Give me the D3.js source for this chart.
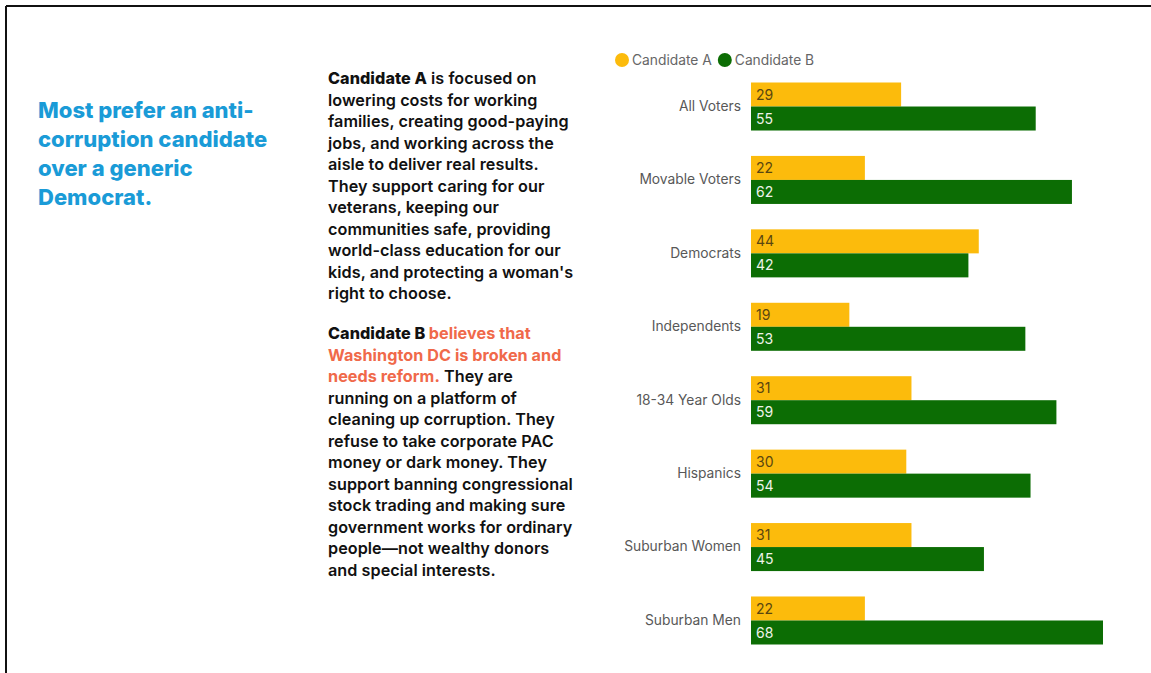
<!DOCTYPE html>
<html>
<head>
<meta charset="utf-8">
<script src="https://cdn.jsdelivr.net/npm/d3@7"></script>
<style>
  html, body { margin: 0; padding: 0; background: #fff; }
  svg { display: block; }
</style>
</head>
<body>
<div id="chart"></div>
<script>
// data
const groups = ['All Voters', 'Movable Voters', 'Democrats', 'Independents',
  '18-34 Year Olds', 'Hispanics', 'Suburban Women', 'Suburban Men'];
const seriesNames = ['Candidate A', 'Candidate B'];
const candidateA = [29, 22, 44, 19, 31, 30, 31, 22];
const candidateB = [55, 62, 42, 53, 59, 54, 45, 68];

const titleLines = ['Most prefer an anti-', 'corruption candidate', 'over a generic', 'Democrat.'];

// each line is a list of [text, style] pieces
const paraA = [
  [['Candidate A', 'lead'], [' is focused on', 'body']],
  [['lowering costs for working', 'body']],
  [['families, creating good-paying', 'body']],
  [['jobs, and working across the', 'body']],
  [['aisle to deliver real results.', 'body']],
  [['They support caring for our', 'body']],
  [['veterans, keeping our', 'body']],
  [['communities safe, providing', 'body']],
  [['world-class education for our', 'body']],
  [["kids, and protecting a woman's", 'body']],
  [['right to choose.', 'body']]
];
const paraB = [
  [['Candidate B ', 'lead'], ['believes that', 'accent']],
  [['Washington DC is broken and', 'accent']],
  [['needs reform.', 'accent'], [' They are', 'body']],
  [['running on a platform of', 'body']],
  [['cleaning up corruption. They', 'body']],
  [['refuse to take corporate PAC', 'body']],
  [['money or dark money. They', 'body']],
  [['support banning congressional', 'body']],
  [['stock trading and making sure', 'body']],
  [['government works for ordinary', 'body']],
  [['people\u2014not wealthy donors', 'body']],
  [['and special interests.', 'body']]
];

const W = 1151, H = 673;
const colors = { 'Candidate A': '#fcbb0c', 'Candidate B': '#0c6d04' };
const font = 'Inter, "Noto Sans", sans-serif';

const svg = d3.select('#chart').append('svg')
  .attr('width', W).attr('height', H);

// frame (top + left edge only)
svg.append('line').attr('x1', 6).attr('x2', W).attr('y1', 6).attr('y2', 6)
  .attr('stroke', '#111').attr('stroke-width', 2);
svg.append('line').attr('x1', 6).attr('x2', 6).attr('y1', 6).attr('y2', H)
  .attr('stroke', '#111').attr('stroke-width', 2);

// headline
svg.append('text')
  .attr('font-family', font).attr('font-weight', 800).attr('font-size', 22)
  .attr('fill', '#1a9bd7')
  .selectAll('tspan').data(titleLines).join('tspan')
  .attr('x', 38).attr('y', (d, i) => 118 + i * 29)
  .text(d => d);

// paragraphs
const styles = {
  lead: { weight: 800, fill: '#111' },
  body: { weight: 600, fill: '#111' },
  accent: { weight: 700, fill: '#f0694a' }
};
function drawPara(lines, y0) {
  const t = svg.append('text')
    .attr('font-family', font).attr('font-size', 16.2).attr('letter-spacing', 0.05);
  lines.forEach((line, i) => {
    line.forEach((piece, j) => {
      const ts = t.append('tspan')
        .attr('font-weight', styles[piece[1]].weight)
        .attr('fill', styles[piece[1]].fill)
        .style('white-space', 'pre')
        .text(piece[0]);
      if (j === 0) ts.attr('x', 328).attr('y', y0 + i * 21.5);
    });
  });
}
drawPara(paraA, 84);
drawPara(paraB, 339);

// bar chart
const x = d3.scaleLinear().domain([0, 68]).range([751, 1103]);
const y = d3.scaleBand().domain(groups).range([82.5, 644.5]).paddingInner(0.346).paddingOuter(0);
const ySub = d3.scaleBand().domain(seriesNames).range([0, y.bandwidth()]).padding(0);

const rows = groups.map((g, i) => ({
  group: g,
  values: [
    { name: 'Candidate A', value: candidateA[i] },
    { name: 'Candidate B', value: candidateB[i] }
  ]
}));

const rowG = svg.append('g').selectAll('g').data(rows).join('g')
  .attr('transform', d => `translate(0,${y(d.group)})`);

rowG.selectAll('rect').data(d => d.values).join('rect')
  .attr('x', x(0))
  .attr('y', d => ySub(d.name))
  .attr('width', d => x(d.value) - x(0))
  .attr('height', ySub.bandwidth())
  .attr('fill', d => colors[d.name]);

rowG.selectAll('text.val').data(d => d.values).join('text')
  .attr('class', 'val')
  .attr('x', x(0) + 5)
  .attr('y', d => ySub(d.name) + ySub.bandwidth() / 2)
  .attr('dy', '0.36em')
  .attr('font-family', font).attr('font-size', 14)
  .attr('fill', d => d.name === 'Candidate A' ? '#5a4710' : '#eef3ea')
  .text(d => d.value);

// category axis
const yAxis = svg.append('g')
  .attr('transform', `translate(${x(0)},0)`)
  .call(d3.axisLeft(y).tickSize(0).tickPadding(10));
yAxis.select('.domain').remove();
yAxis.selectAll('text')
  .attr('font-family', font).attr('font-size', 13.8).attr('fill', '#585858');

// legend
const legend = svg.append('g').attr('transform', 'translate(615,60)');
let lx = 0;
seriesNames.forEach(name => {
  const item = legend.append('g').attr('transform', `translate(${lx},0)`);
  item.append('circle').attr('cx', 7).attr('cy', 0).attr('r', 7).attr('fill', colors[name]);
  const t = item.append('text').attr('x', 17).attr('dy', '0.36em')
    .attr('font-family', font).attr('font-size', 13.8).attr('fill', '#666')
    .text(name);
  lx += 17 + t.node().getComputedTextLength() + 6;
});
</script>
</body>
</html>
